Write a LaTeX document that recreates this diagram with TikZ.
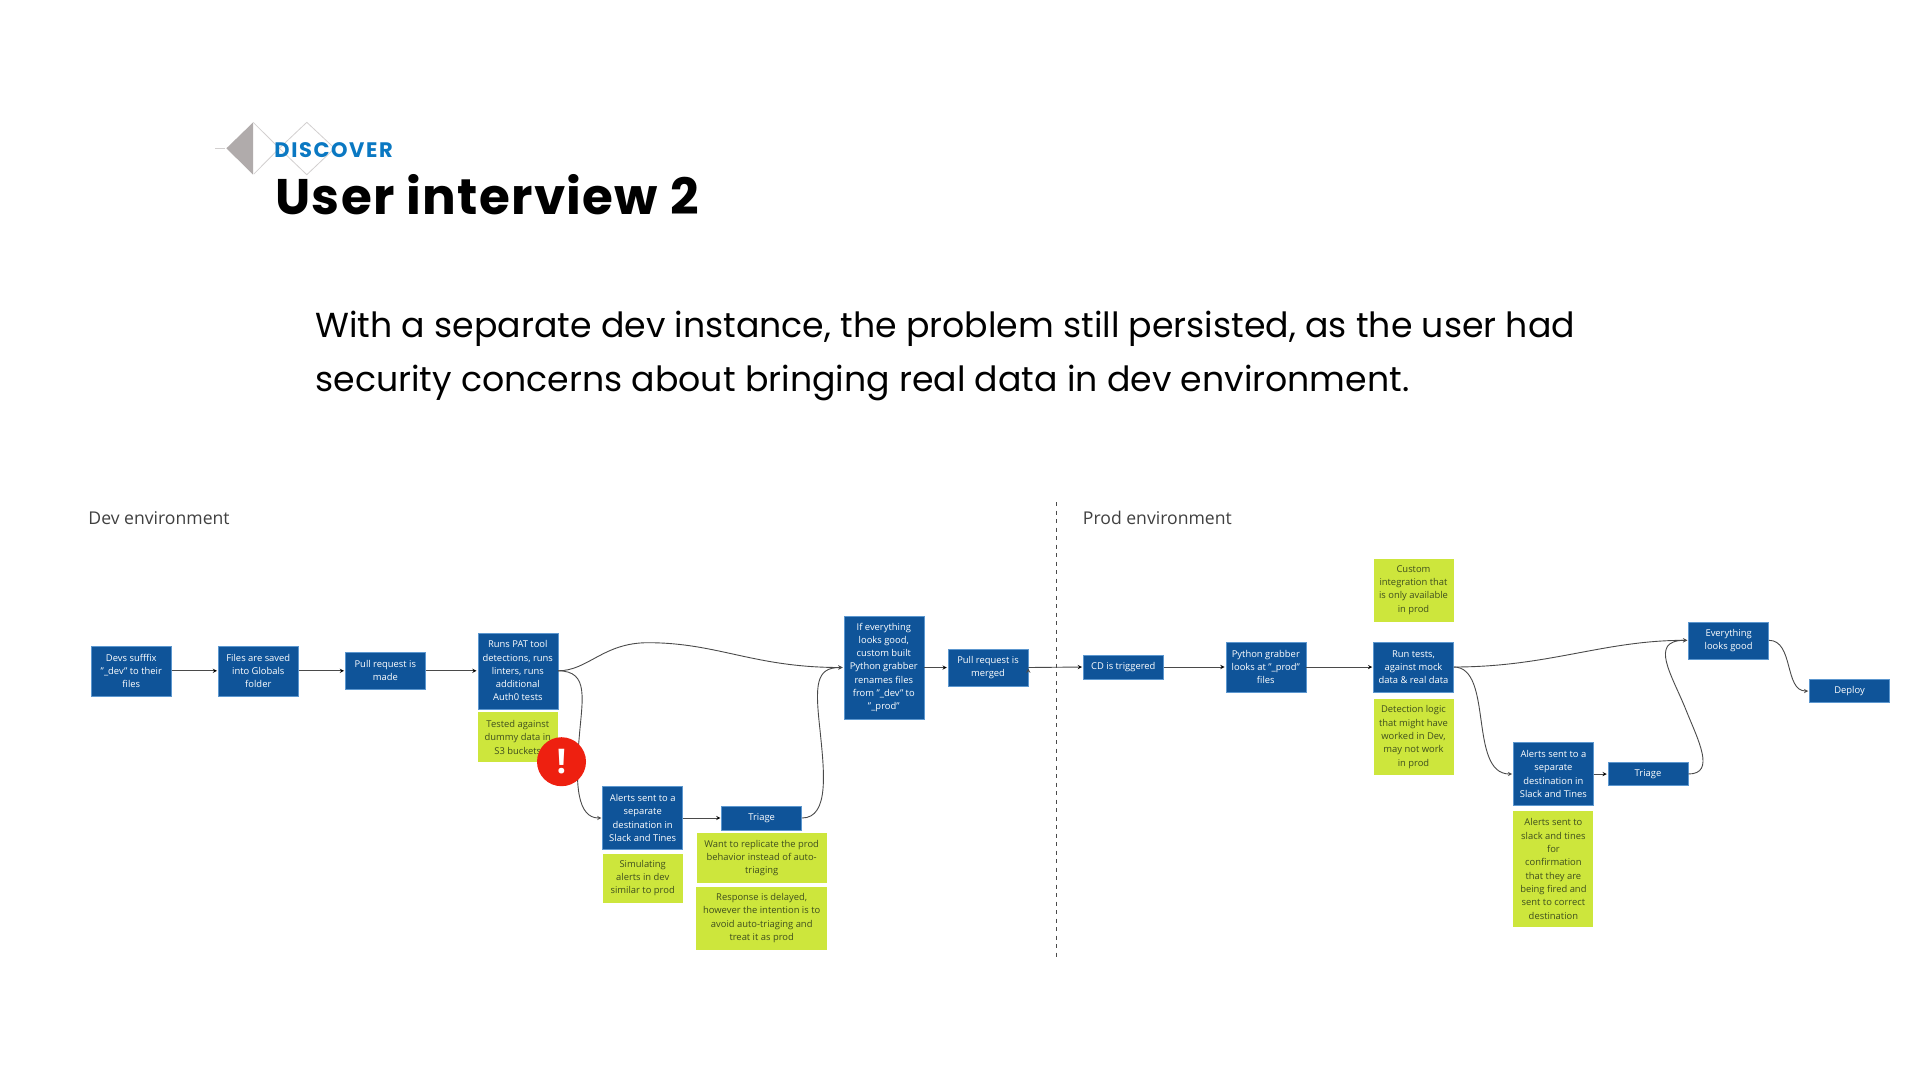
\documentclass[tikz,border=0pt]{standalone}
\usepackage{fontspec}
\setmainfont{Open Sans}
\newfontfamily\headfont{Poppins}
\newfontfamily\titlefont[LetterSpace=2.6]{Poppins}
\newfontfamily\tagfont[LetterSpace=7.5]{Poppins}
\usepackage{pgf, tikz}
\usetikzlibrary{arrows}

\definecolor{boxblue}{HTML}{0F5499}
\definecolor{boxedge}{HTML}{5C97CF}
\definecolor{notegreen}{HTML}{CDE63C}
\definecolor{notetext}{HTML}{3F4F1E}
\definecolor{linegrey}{HTML}{4A4A4A}
\definecolor{diamondgrey}{HTML}{B0ABAB}
\definecolor{diamondline}{HTML}{D2CFCF}
\definecolor{discoverblue}{HTML}{0A78C2}
\definecolor{alertred}{HTML}{EE2010}

\begin{document}
\begin{tikzpicture}[
            x = 1pt,
            y = -1pt,
            > = stealth, % arrow head style
            shorten > = 1pt, % don't touch arrow head to node
            node distance = 127pt, % distance between boxes
            line width = 0.9pt
        ]

        \tikzstyle{bluebox}=[
            draw = boxedge,
            line width = 0.5pt,
            fill = boxblue,
            text = white,
            align = center,
            inner sep = 0pt,
            minimum width = 80pt,
            font = \fontsize{9.4}{13.3}\selectfont
        ]

        \tikzstyle{notebox}=[
            fill = notegreen,
            text = notetext,
            align = center,
            inner sep = 0pt,
            minimum width = 80pt,
            font = \fontsize{9.4}{13.3}\selectfont
        ]

        \tikzstyle{flow}=[->, draw = linegrey]

        \tikzstyle{envlabel}=[
            anchor = west,
            inner sep = 0pt,
            text = black!75,
            font = \fontsize{17.6}{20}\selectfont
        ]

        \useasboundingbox (0,0) rectangle (1920,1080);

        % heading
        \coordinate (stub) at (215,148.3);
        \coordinate (dleft) at (226.4,148.3);
        \coordinate (dtop) at (253.2,122.3);
        \coordinate (dbottom) at (253.2,174.7);
        \coordinate (dmid) at (279.3,148.3);
        \coordinate (etop) at (306.8,122.3);
        \coordinate (ebottom) at (306.8,174.7);
        \coordinate (eright) at (334.6,148.3);
        \draw[diamondline, line width = 0.8pt] (stub) -- (dleft);
        \fill[diamondgrey] (dleft) -- (dtop) -- (dbottom) -- cycle;
        \draw[diamondline, line width = 0.8pt] (dtop) -- (dmid) -- (dbottom);
        \draw[diamondline, line width = 0.8pt] (dmid) -- (etop) -- (eright) -- (ebottom) -- cycle;

        \node[anchor=west, inner sep=0pt, text=discoverblue, font=\tagfont\fontsize{21}{24}\selectfont\bfseries] (discover) at (274,150) {DISCOVER};
        \node[anchor=west, inner sep=0pt, text=black, font=\titlefont\fontsize{50}{58}\selectfont\bfseries] (title) at (275,195) {User interview 2};
        \node[anchor=north west, inner sep=0pt, align=left, text=black, font=\headfont\fontsize{34.7}{53.6}\selectfont] (lead) at (315,311) {With a separate dev instance, the problem still persisted, as the user had\\security concerns about bringing real data in dev environment.};

        % dev environment
        \node[envlabel] (devlabel) at (88,518) {Dev environment};

        \node[bluebox, minimum height=50pt] (devs) at (131.3,670.8) {Devs sufffix\\"\_dev" to their\\files};
        \node[bluebox, minimum height=50pt] (saved) [right of=devs] {Files are saved\\into Globals\\folder};
        \node[bluebox, minimum height=37pt] (pull) [right of=saved] {Pull request is\\made};
        \node[bluebox, minimum height=76pt] (runs) [right of=pull, node distance=132.5pt] {Runs PAT tool\\detections, runs\\linters, runs\\additional\\Auth0 tests};
        \node[notebox, minimum height=50pt] (tested) [below of=runs, node distance=66.5pt] {Tested against\\dummy data in\\S3 buckets};

        \node[bluebox, minimum height=63pt] (alerts) at (642.7,818) {Alerts sent to a\\separate\\destination in\\Slack and Tines};
        \node[notebox, minimum height=49pt] (simulating) [below of=alerts, node distance=60pt] {Simulating\\alerts in dev\\similar to prod};
        \node[bluebox, minimum height=24pt] (triage) [right of=alerts, node distance=119pt] {Triage};
        \node[notebox, minimum width=130pt, minimum height=50pt] (replicate) [below of=triage, node distance=40pt] {Want to replicate the prod\\behavior instead of auto-\\triaging};
        \node[notebox, minimum width=131pt, minimum height=63pt] (delayed) [below of=triage, node distance=100pt] {Response is delayed,\\however the intention is to\\avoid auto-triaging and\\treat it as prod};

        \node[bluebox, minimum height=103pt] (grabber) at (883.8,667.5) {If everything\\looks good,\\custom built\\Python grabber\\renames files\\from "\_dev" to\\"\_prod"};
        \node[bluebox, minimum height=37pt] (merged) [right of=grabber, node distance=104.2pt] {Pull request is\\merged};

        % divider
        \coordinate (divtop) at (1056.7,502);
        \coordinate (divbottom) at (1056.7,960);
        \draw[linegrey, dash pattern=on 4pt off 4.5pt, line width=1pt] (divtop) -- (divbottom);

        % prod environment
        \node[envlabel] (prodlabel) at (1082.5,518) {Prod environment};

        \node[bluebox, minimum height=24pt] (cd) at (1123.3,667) {CD is triggered};
        \node[bluebox, minimum height=50pt] (looks) [right of=cd, node distance=142.5pt] {Python grabber\\looks at "\_prod"\\files};
        \node[bluebox, minimum height=50pt] (tests) [right of=looks, node distance=147.7pt] {Run tests,\\against mock\\data \& real data};
        \node[notebox, minimum height=63pt] (custom) [above of=tests, node distance=77pt] {Custom\\integration that\\is only available\\in prod};
        \node[notebox, minimum height=76pt] (logic) [below of=tests, node distance=70pt] {Detection logic\\that might have\\worked in Dev,\\may not work\\in prod};

        \node[bluebox, minimum height=63pt] (prodalerts) at (1553.4,774) {Alerts sent to a\\separate\\destination in\\Slack and Tines};
        \node[notebox, minimum height=116pt] (confirm) [below of=prodalerts, node distance=95pt] {Alerts sent to\\slack and tines\\for\\confirmation\\that they are\\being fired and\\sent to correct\\destination};
        \node[bluebox, minimum height=23pt] (prodtriage) [right of=prodalerts, node distance=94.6pt] {Triage};
        \node[bluebox, minimum height=37pt] (good) at (1728.6,640.3) {Everything\\looks good};
        \node[bluebox, minimum height=23pt] (deploy) at (1849.5,691) {Deploy};

        % free points that the curves pass through
        \coordinate (devpeak) at (648,642.7);
        \coordinate (devdrop) at (579,740);
        \coordinate (devback) at (820,730);
        \coordinate (prodback) at (1686,710);

        \path[flow] (devs) edge (saved);
        \path[flow] (saved) edge (pull);
        \path[flow] (pull) edge (runs);
        \path[flow] (alerts) edge (triage);
        \draw[flow] (runs.east) .. controls +(30,0) and +(-45,0) .. (devpeak) .. controls +(70,0) and +(-90,0) .. (grabber.west);
        \draw[flow] (runs.east) .. controls +(32,0) and +(3,-40) .. (devdrop) .. controls +(-4,45) and +(-25,0) .. (alerts.west);
        \draw[flow] (triage.east) .. controls +(28,0) and +(4,40) .. (devback) .. controls +(-5,-45) and +(-28,0) .. (grabber.west);
        \path[flow] (grabber) edge (merged);
        \path[flow] (merged.east) edge (cd.west);
        \path[flow] (cd) edge (looks);
        \path[flow] (looks) edge (tests);
        \draw[flow] (tests.east) .. controls +(95,0) and +(-85,0) .. (good.west);
        \draw[flow] (tests.east) .. controls +(40,0) and +(-45,0) .. (prodalerts.west);
        \path[flow] (prodalerts) edge (prodtriage);
        \draw[flow] (prodtriage.east) .. controls +(28,0) and +(12,30) .. (prodback) .. controls +(-14,-35) and +(-40,0) .. (good.west);
        \draw[flow] (good.east) .. controls +(25,0) and +(-25,0) .. (deploy.west);

        \node[circle, fill=alertred, text=white, inner sep=0pt, minimum size=49pt, font=\fontsize{34}{34}\selectfont\bfseries] (warn) at (561.5,761.7) {!};

    \end{tikzpicture}
\end{document}
